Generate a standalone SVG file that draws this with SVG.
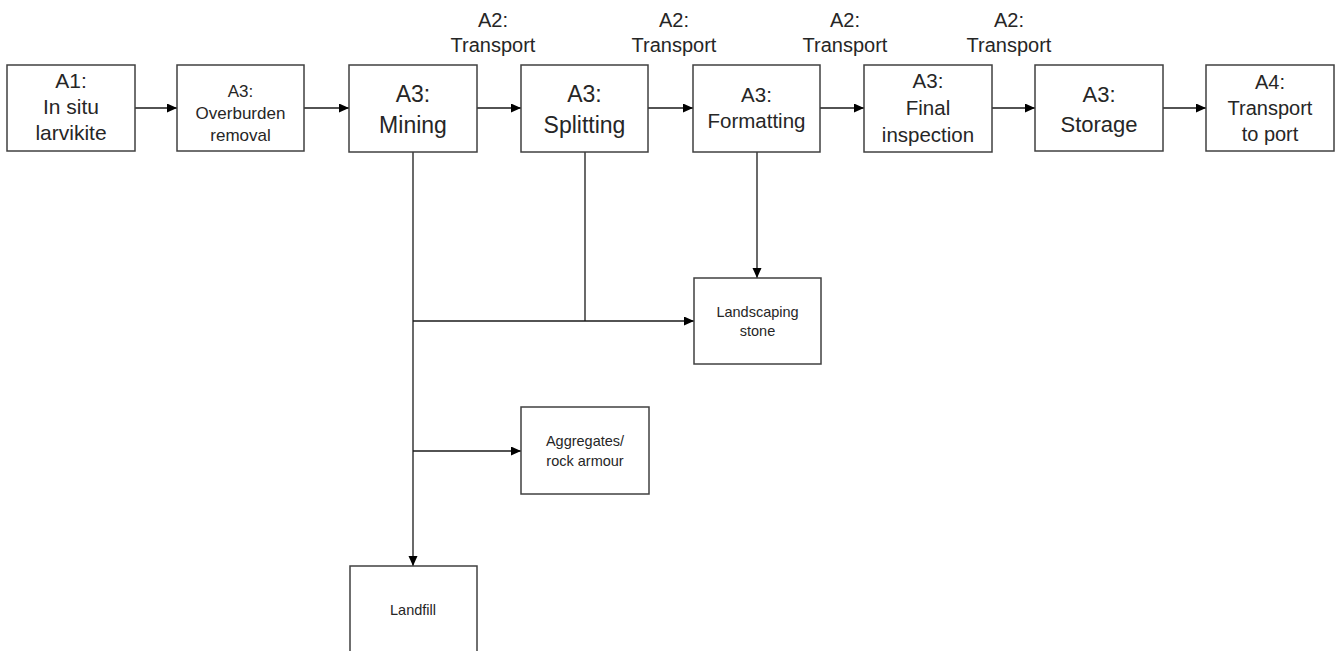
<svg xmlns="http://www.w3.org/2000/svg" width="1337" height="651" viewBox="0 0 1337 651">
<defs>
<style>
.box{fill:#fff;stroke:#404040;stroke-width:1.5}
.t{font-family:"Liberation Sans",Arial,sans-serif;fill:#262626;text-anchor:middle}
.c{fill:none;stroke:#1a1a1a;stroke-width:1.3}
</style>
<marker id="ah" markerUnits="userSpaceOnUse" markerWidth="11" markerHeight="10" refX="10" refY="4.5" orient="auto">
<path d="M0,0 L10,4.5 L0,9 z" fill="#000"/>
</marker>
</defs>
<rect width="1337" height="651" fill="#fff"/>
<g id="connectors">
<line class="c" x1="135" y1="108" x2="177" y2="108" marker-end="url(#ah)"/>
<line class="c" x1="304" y1="108" x2="349" y2="108" marker-end="url(#ah)"/>
<line class="c" x1="477" y1="108" x2="521" y2="108" marker-end="url(#ah)"/>
<line class="c" x1="648" y1="108" x2="693" y2="108" marker-end="url(#ah)"/>
<line class="c" x1="820" y1="108" x2="864" y2="108" marker-end="url(#ah)"/>
<line class="c" x1="992" y1="108" x2="1035" y2="108" marker-end="url(#ah)"/>
<line class="c" x1="1163" y1="108" x2="1206" y2="108" marker-end="url(#ah)"/>
<line class="c" x1="413" y1="152" x2="413" y2="566" marker-end="url(#ah)"/>
<line class="c" x1="585" y1="152" x2="585" y2="321"/>
<line class="c" x1="413" y1="321" x2="694" y2="321" marker-end="url(#ah)"/>
<line class="c" x1="757" y1="152" x2="757" y2="278" marker-end="url(#ah)"/>
<line class="c" x1="413" y1="451" x2="521" y2="451" marker-end="url(#ah)"/>
</g>
<g id="labels">
<text class="t" font-size="20" x="493" y="27">A2:</text>
<text class="t" font-size="20" x="493" y="52">Transport</text>
<text class="t" font-size="20" x="674" y="27">A2:</text>
<text class="t" font-size="20" x="674" y="52">Transport</text>
<text class="t" font-size="20" x="845" y="27">A2:</text>
<text class="t" font-size="20" x="845" y="52">Transport</text>
<text class="t" font-size="20" x="1009" y="27">A2:</text>
<text class="t" font-size="20" x="1009" y="52">Transport</text>
</g>
<g id="n-a1">
<rect class="box" x="7" y="65" width="128" height="86"/>
<text class="t" font-size="21" x="71" y="88">A1:</text>
<text class="t" font-size="21" x="71" y="114">In situ</text>
<text class="t" font-size="21" x="71" y="140">larvikite</text>
</g>
<g id="n-overburden">
<rect class="box" x="177" y="65" width="127" height="86"/>
<text class="t" font-size="17" x="240.5" y="97">A3:</text>
<text class="t" font-size="17" x="240.5" y="119">Overburden</text>
<text class="t" font-size="17" x="240.5" y="141">removal</text>
</g>
<g id="n-mining">
<rect class="box" x="349" y="65" width="128" height="87"/>
<text class="t" font-size="23" x="413" y="102">A3:</text>
<text class="t" font-size="23" x="413" y="133">Mining</text>
</g>
<g id="n-splitting">
<rect class="box" x="521" y="65" width="127" height="87"/>
<text class="t" font-size="23" x="584.5" y="102">A3:</text>
<text class="t" font-size="23" x="584.5" y="133">Splitting</text>
</g>
<g id="n-formatting">
<rect class="box" x="693" y="65" width="127" height="87"/>
<text class="t" font-size="20.5" x="756.5" y="102">A3:</text>
<text class="t" font-size="20.5" x="756.5" y="128">Formatting</text>
</g>
<g id="n-inspection">
<rect class="box" x="864" y="65" width="128" height="87"/>
<text class="t" font-size="20.5" x="928" y="88">A3:</text>
<text class="t" font-size="20.5" x="928" y="115">Final</text>
<text class="t" font-size="20.5" x="928" y="142">inspection</text>
</g>
<g id="n-storage">
<rect class="box" x="1035" y="65" width="128" height="86"/>
<text class="t" font-size="22" x="1099" y="102">A3:</text>
<text class="t" font-size="22" x="1099" y="132">Storage</text>
</g>
<g id="n-port">
<rect class="box" x="1206" y="65" width="128" height="86"/>
<text class="t" font-size="20" x="1270" y="89">A4:</text>
<text class="t" font-size="20" x="1270" y="115">Transport</text>
<text class="t" font-size="20" x="1270" y="141">to port</text>
</g>
<g id="n-landscaping">
<rect class="box" x="694" y="278" width="127" height="86"/>
<text class="t" font-size="14.5" x="757.5" y="317">Landscaping</text>
<text class="t" font-size="14.5" x="757.5" y="336">stone</text>
</g>
<g id="n-aggregates">
<rect class="box" x="521" y="407" width="128" height="87"/>
<text class="t" font-size="14.5" x="585" y="446">Aggregates/</text>
<text class="t" font-size="14.5" x="585" y="466">rock armour</text>
</g>
<g id="n-landfill">
<rect class="box" x="350" y="566" width="127" height="100"/>
<text class="t" font-size="14.5" x="413" y="615">Landfill</text>
</g>
</svg>
